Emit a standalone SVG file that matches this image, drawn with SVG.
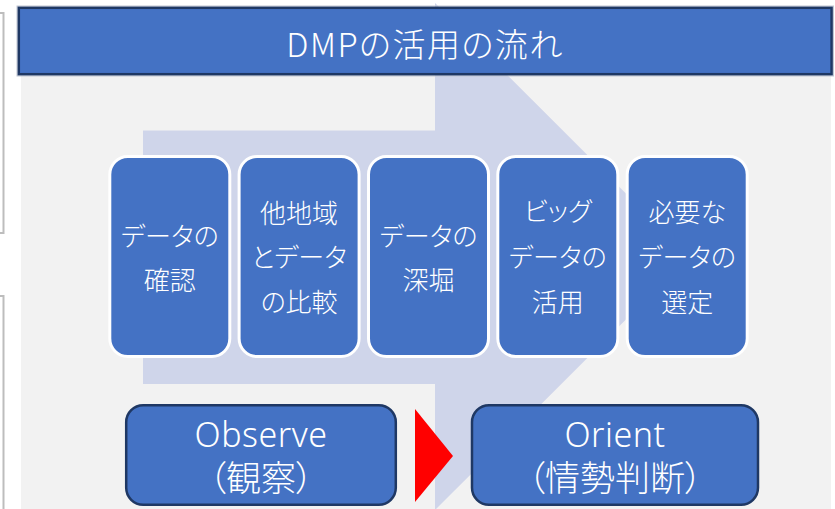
<svg xmlns="http://www.w3.org/2000/svg" width="835" height="509" viewBox="0 0 835 509">
  <defs>
    <style>
      .txt { font-family: "Noto Sans CJK JP", "Noto Sans", sans-serif; fill: #FFFFFF; text-anchor: middle; font-weight: 300; font-feature-settings: "palt"; }
      .card { fill: #4472C4; stroke: #FFFFFF; stroke-width: 3; }
      .box { fill: #4472C4; stroke: #1F3864; stroke-width: 2.5; }
      .cardtxt { font-size: 26px; }
      .lat { font-family: "Noto Sans", "Noto Sans CJK JP", sans-serif; font-size: 34px; letter-spacing: 0.5px; }
      .jp2 { font-family: "Noto Sans", "Noto Sans CJK JP", sans-serif; font-size: 35px; }
    </style>
  </defs>
  <rect x="0" y="0" width="835" height="509" fill="#FFFFFF"/>
  <!-- left brackets -->
  <path d="M0,13 H3.5 V233 H0 M0,296 H3.5 V509" fill="none" stroke="#BDBDBD" stroke-width="2"/>
  <!-- background panel -->
  <rect x="21" y="70" width="810" height="439" fill="#F2F2F2"/>
  <!-- big arrow -->
  <polygon id="flow-arrow" points="143,130.5 435,130.5 435,3 689,256.5 435,510 435,384 143,384" fill="#CFD5EA"/>
  <!-- header -->
  <g id="header">
    <rect x="17" y="6" width="816.5" height="70" fill="none" stroke="#BFC6D4" stroke-width="1"/>
    <rect x="18.8" y="7.8" width="812.8" height="66.4" fill="#4472C4" stroke="#1F3864" stroke-width="2.5"/>
    <text class="txt" x="425" y="57" font-size="33" letter-spacing="1.5">DMPの活用の流れ</text>
  </g>
  <!-- cards -->
  <g id="card1">
    <rect class="card" x="109.8" y="156.5" width="120" height="200" rx="18"/>
    <text class="txt cardtxt" x="169.8" y="246">データの</text>
    <text class="txt cardtxt" x="169.8" y="290">確認</text>
  </g>
  <g id="card2">
    <rect class="card" x="239.1" y="156.5" width="120" height="200" rx="18"/>
    <text class="txt cardtxt" x="299.1" y="223">他地域</text>
    <text class="txt cardtxt" x="299.1" y="267">とデータ</text>
    <text class="txt cardtxt" x="299.1" y="311.5">の比較</text>
  </g>
  <g id="card3">
    <rect class="card" x="368.5" y="156.5" width="120" height="200" rx="18"/>
    <text class="txt cardtxt" x="428.5" y="246">データの</text>
    <text class="txt cardtxt" x="428.5" y="290">深堀</text>
  </g>
  <g id="card4">
    <rect class="card" x="497.8" y="156.5" width="120" height="200" rx="18"/>
    <text class="txt cardtxt" x="557.8" y="221">ビッグ</text>
    <text class="txt cardtxt" x="557.8" y="267">データの</text>
    <text class="txt cardtxt" x="557.8" y="311.5">活用</text>
  </g>
  <g id="card5">
    <rect class="card" x="627.2" y="156.5" width="120" height="200" rx="18"/>
    <text class="txt cardtxt" x="687.2" y="222">必要な</text>
    <text class="txt cardtxt" x="687.2" y="267">データの</text>
    <text class="txt cardtxt" x="687.2" y="311.5">選定</text>
  </g>
  <!-- connectors -->
  <g id="connectors">
    <polygon points="415,409 453,456 415,502" fill="#FF0000"/>
  </g>
  <!-- bottom boxes -->
  <g id="observe">
    <rect class="box" x="126.2" y="405.2" width="269.6" height="99.6" rx="17"/>
    <text class="txt lat" x="261" y="447">Observe</text>
    <text class="txt jp2" x="261" y="491">（観察）</text>
  </g>
  <g id="orient">
    <rect class="box" x="472" y="405.2" width="286" height="99.6" rx="17"/>
    <text class="txt lat" x="615" y="447">Orient</text>
    <text class="txt jp2" x="615" y="491">（情勢判断）</text>
  </g>
</svg>
